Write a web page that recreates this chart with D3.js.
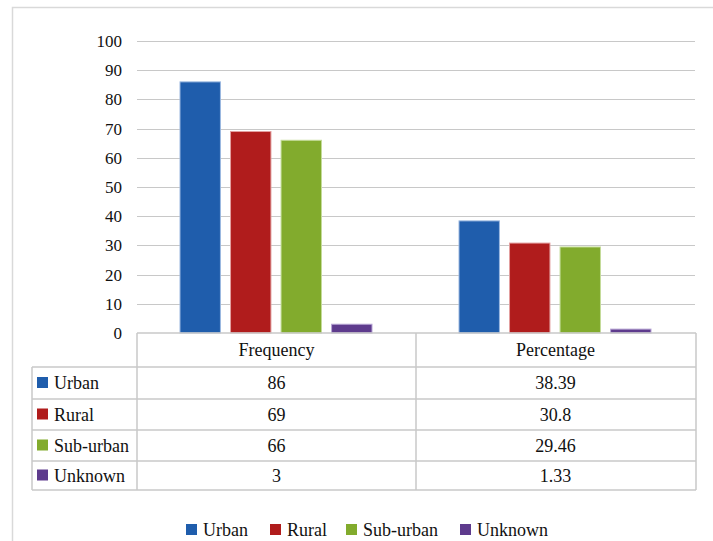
<!DOCTYPE html>
<html>
<head>
<meta charset="utf-8">
<script src="https://cdn.jsdelivr.net/npm/d3@7"></script>
<style>
  body { margin: 0; }
  #chart text { font-family: "Liberation Serif", Tinos, "Times New Roman", serif; }
</style>
</head>
<body>
<div id="chart"></div>
<script>
// Data
const groups = ['Frequency', 'Percentage'];
const series = ['Urban', 'Rural', 'Sub-urban', 'Unknown'];
const frequency = [86, 69, 66, 3];
const percentage = [38.39, 30.8, 29.46, 1.33];
const percentageLabels = ['38.39', '30.8', '29.46', '1.33'];
const yTicks = [0, 10, 20, 30, 40, 50, 60, 70, 80, 90, 100];

const colors = ['#1f5dac', '#b01c1c', '#82ab2d', '#5e3b8d'];
const strokes = ['#9bb8e0', '#e3a0a0', '#c4dc9a', '#b7a5d4'];

const FONT = '"Liberation Serif", Tinos, "Times New Roman", serif';
const W = 713, H = 541;
const plot = { left: 137, right: 695, top: 41, bottom: 333 };

const svg = d3.select('#chart')
    .append('svg')
    .attr('width', W)
    .attr('height', H)
    .style('font-family', FONT);

// helper for text with the serif font
const addText = (sel, size) => sel.append('text')
    .style('font-family', FONT)
    .style('font-size', size + 'px')
    .attr('fill', '#111');

// Outer frame (cut at right and bottom)
svg.append('path')
    .attr('d', `M12.5,${H} V7.5 H${W}`)
    .attr('fill', 'none')
    .attr('stroke', '#d9d9d9')
    .attr('stroke-width', 1.5);

// Scales
const y = d3.scaleLinear().domain([0, 100]).range([plot.bottom, plot.top]);
const x0 = d3.scaleBand().domain(groups).range([plot.left, plot.right]);
const x1 = d3.scaleBand().domain(series).range([43, x0.bandwidth() - 44]).paddingInner(0.2);

// Gridlines
svg.append('g')
    .selectAll('line')
    .data(yTicks.filter(d => d > 0))
    .enter()
    .append('line')
    .attr('x1', plot.left)
    .attr('x2', plot.right)
    .attr('y1', d => Math.round(y(d)) + 0.5)
    .attr('y2', d => Math.round(y(d)) + 0.5)
    .attr('stroke', '#c8c8c8')
    .attr('stroke-width', 1.2);

// Y axis labels
const yAxis = d3.axisLeft(y).tickValues(yTicks).tickSize(0).tickPadding(15);
const yg = svg.append('g')
    .attr('transform', `translate(${plot.left},0)`)
    .call(yAxis);
yg.attr('font-family', null).attr('font-size', null);
yg.select('.domain').remove();
yg.selectAll('text')
    .style('font-family', FONT)
    .style('font-size', '17px')
    .attr('fill', '#111');

// Bars
const values = { Frequency: frequency, Percentage: percentage };
const barGroups = svg.append('g')
    .selectAll('g')
    .data(groups)
    .enter()
    .append('g')
    .attr('transform', d => `translate(${x0(d)},0)`);

barGroups.selectAll('rect')
    .data(g => series.map((s, i) => ({ s, i, v: values[g][i] })))
    .enter()
    .append('rect')
    .attr('x', d => x1(d.s))
    .attr('y', d => y(d.v))
    .attr('width', x1.bandwidth())
    .attr('height', d => y(0) - y(d.v))
    .attr('fill', d => colors[d.i])
    .attr('stroke', d => strokes[d.i])
    .attr('stroke-width', 1);

// Data table
const tableLeft = 32;
const rowLines = [333, 367, 399, 430, 461, 490];
const grid = svg.append('g')
    .attr('stroke', '#c8c8c8')
    .attr('stroke-width', 1.5)
    .attr('fill', 'none');

grid.append('line').attr('x1', plot.left).attr('x2', plot.right + 1).attr('y1', rowLines[0]).attr('y2', rowLines[0]);
rowLines.slice(1).forEach(yy => {
    grid.append('line').attr('x1', tableLeft).attr('x2', plot.right + 1).attr('y1', yy).attr('y2', yy);
});
grid.append('line').attr('x1', tableLeft).attr('x2', tableLeft).attr('y1', rowLines[1]).attr('y2', rowLines[5]);
[plot.left, x0('Percentage'), plot.right + 1].forEach(xx => {
    grid.append('line').attr('x1', xx).attr('x2', xx).attr('y1', rowLines[0]).attr('y2', rowLines[5]);
});

// header labels
groups.forEach(g => {
    addText(svg, 18)
        .attr('x', x0(g) + x0.bandwidth() / 2)
        .attr('y', (rowLines[0] + rowLines[1]) / 2 + 6)
        .attr('text-anchor', 'middle')
        .text(g);
});

// rows
const cellText = { Frequency: frequency.map(String), Percentage: percentageLabels };
series.forEach((s, i) => {
    const cy = (rowLines[i + 1] + rowLines[i + 2]) / 2;
    svg.append('rect')
        .attr('x', 37)
        .attr('y', cy - 6)
        .attr('width', 11)
        .attr('height', 11)
        .attr('fill', colors[i]);
    addText(svg, 18)
        .attr('x', 54)
        .attr('y', cy + 6)
        .text(s);
    groups.forEach(g => {
        addText(svg, 18)
            .attr('x', x0(g) + x0.bandwidth() / 2)
            .attr('y', cy + 6)
            .attr('text-anchor', 'middle')
            .text(cellText[g][i]);
    });
});

// Legend
const legendX = [186, 270, 346, 460];
series.forEach((s, i) => {
    svg.append('rect')
        .attr('x', legendX[i])
        .attr('y', 524)
        .attr('width', 11)
        .attr('height', 11)
        .attr('fill', colors[i]);
    addText(svg, 18)
        .attr('x', legendX[i] + 17)
        .attr('y', 536)
        .text(s);
});
</script>
</body>
</html>
